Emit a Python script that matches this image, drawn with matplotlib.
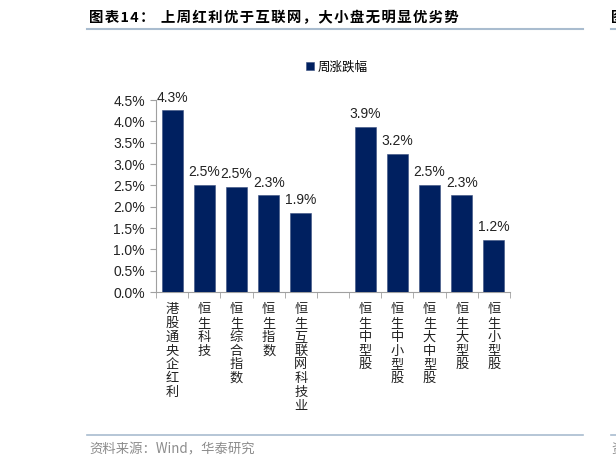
import numpy as np
import matplotlib
matplotlib.use('Agg')
import matplotlib.pyplot as plt
from matplotlib.lines import Line2D

plt.rcParams['font.family'] = ['Liberation Sans', 'Noto Sans CJK SC', 'DejaVu Sans']

cjk = ['Noto Sans CJK SC', 'DejaVu Sans']

categories = ['港股通央企红利', '恒生科技', '恒生综合指数', '恒生指数', '恒生互联网科技业',
              '',
              '恒生中型股', '恒生中小型股', '恒生大中型股', '恒生大型股', '恒生小型股']
values = [4.26, 2.51, 2.46, 2.27, 1.86, np.nan, 3.87, 3.24, 2.51, 2.27, 1.22]
series_name = '周涨跌幅'
yticks = [0.0, 0.5, 1.0, 1.5, 2.0, 2.5, 3.0, 3.5, 4.0, 4.5]

navy = '#002060'
axis_gray = '#a0a0a0'
rule_color = '#a9bccf'


def spaced(s, gap='\u200a'):
    # the reference typesets its headings with a little letter spacing
    return gap.join(s)


fig = plt.figure(figsize=(6.16, 4.65), dpi=100)
ax = fig.add_axes([156 / 616, 1 - 292 / 465, 354 / 616, 192 / 465])

x = np.arange(len(categories))
bars = ax.bar(x, values, width=0.65, color=navy, edgecolor='#3a4f80', linewidth=0.4,
              label=series_name, zorder=3)

for xi, v in zip(x, values):
    if np.isnan(v):
        continue
    ax.annotate(f'{v:.1f}%', (xi, v), xytext=(0, 4), textcoords='offset points',
                ha='center', va='bottom', fontsize=10, color='#222222')

ax.set_xlim(-0.5, len(categories) - 0.5)
ax.set_ylim(0, 4.5)
ax.set_yticks(yticks)
ax.set_yticklabels([f'{t:.1f}%' for t in yticks], fontsize=10, color='#222222')

# category labels written vertically
ax.set_xticks(x)
ax.set_xticklabels(['\n'.join(c) for c in categories], family=cjk, fontsize=9.5,
                   linespacing=1.08, va='top', color='#222222')
ax.tick_params(axis='x', length=0, pad=8)
ax.set_xticks(np.arange(-0.5, len(categories), 1.0), minor=True)
ax.tick_params(axis='x', which='minor', length=4, color=axis_gray, direction='out')
ax.tick_params(axis='y', length=4, color=axis_gray, pad=4)

for s in ['top', 'right']:
    ax.spines[s].set_visible(False)
for s in ['left', 'bottom']:
    ax.spines[s].set_color(axis_gray)
    ax.spines[s].set_linewidth(0.8)

leg = fig.legend(handles=[bars], labels=[series_name], loc='center',
                 bbox_to_anchor=(337 / 616, 1 - 67 / 465), frameon=False,
                 handlelength=0.6, handleheight=0.6, handletextpad=0.3,
                 prop={'family': cjk, 'size': 9})

# title, rules and source
fig.text(89 / 616, 1 - 18 / 465, spaced('图表14：') + '  ' + spaced('上周红利优于互联网，大小盘无明显优劣势'),
         family=cjk, fontsize=10.4, fontweight='bold', va='center', ha='left')
fig.add_artist(Line2D([87 / 616, 583 / 616], [1 - 29 / 465] * 2, color=rule_color, lw=1.5))
fig.add_artist(Line2D([611 / 616, 1.0], [1 - 29 / 465] * 2, color=rule_color, lw=1.5))
fig.text(611 / 616, 1 - 18 / 465, '图', family=cjk, fontsize=10.4, fontweight='bold',
         va='center', ha='left')

fig.add_artist(Line2D([87 / 616, 583 / 616], [1 - 435 / 465] * 2, color=rule_color, lw=1.2))
fig.add_artist(Line2D([611 / 616, 1.0], [1 - 435 / 465] * 2, color=rule_color, lw=1.2))
fig.text(89 / 616, 1 - 449 / 465, '资料来源：Wind，华泰研究', family=cjk, fontsize=9.6,
         color='#8c8c8c', va='center', ha='left')
fig.text(611 / 616, 1 - 449 / 465, '资', family=cjk, fontsize=9.6,
         color='#8c8c8c', va='center', ha='left')

fig.savefig('out.png', dpi=100, facecolor='white')
